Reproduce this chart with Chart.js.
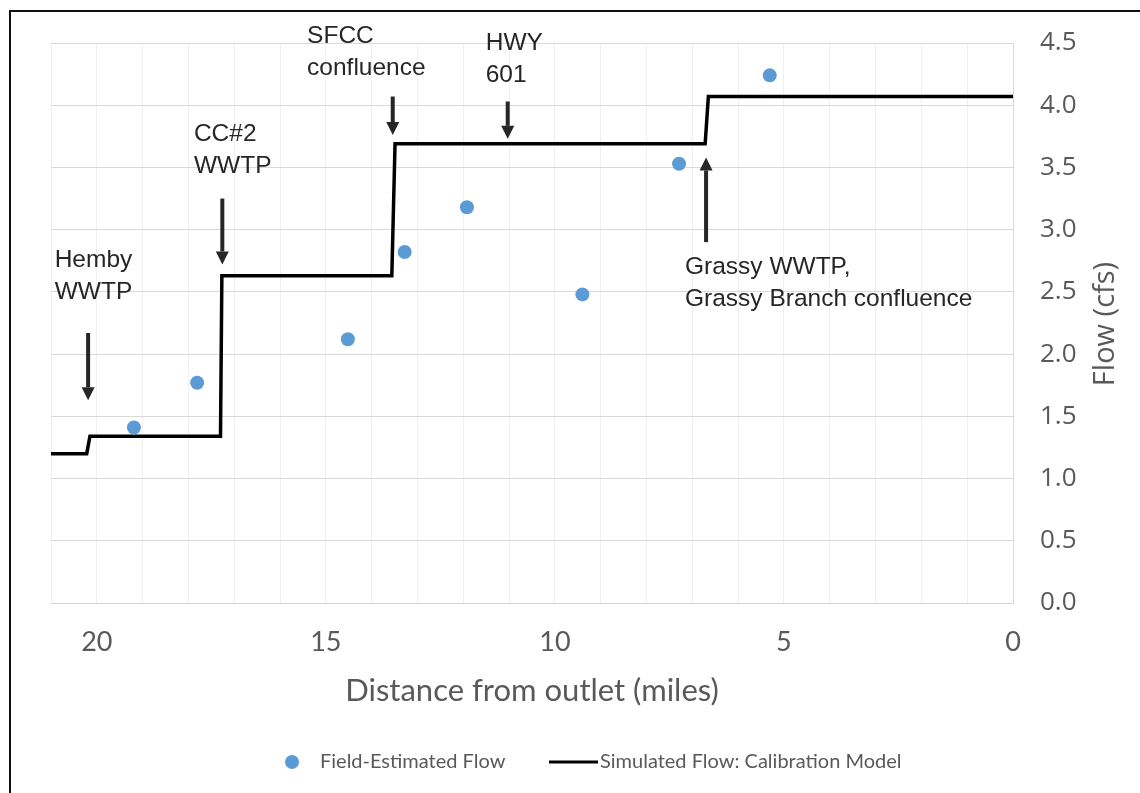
<!DOCTYPE html>
<html>
<head>
<meta charset="utf-8">
<script src="https://cdn.jsdelivr.net/npm/chart.js@4.4.1/dist/chart.umd.min.js"></script>
<style>
  html, body { margin: 0; padding: 0; background: #fff; }
</style>
</head>
<body>
<canvas id="flowChart" width="1140" height="793"></canvas>
<script>
  // Field-estimated flow (blue dots)
  const fieldMiles = [19.19, 17.81, 14.52, 13.28, 11.92, 9.40, 7.29, 5.31];
  const fieldFlow = [1.41, 1.77, 2.12, 2.82, 3.18, 2.48, 3.53, 4.24];

  // Simulated flow: calibration model (step line)
  const simMiles = [21, 20.22, 20.15, 17.30, 17.27, 13.56, 13.49, 6.72, 6.65, 0];
  const simFlow = [1.20, 1.20, 1.34, 1.34, 2.63, 2.63, 3.69, 3.69, 4.07, 4.07];

  // Tick labels
  const xTickLabels = [20, 15, 10, 5, 0];
  const yTickValues = [0, 0.5, 1, 1.5, 2, 2.5, 3, 3.5, 4, 4.5];

  // Point-source call-outs (arrow position in miles, arrow tail/tip in cfs)
  const noteNames = [['Hemby', 'WWTP'], ['CC#2', 'WWTP'], ['SFCC', 'confluence'], ['HWY', '601'], ['Grassy WWTP,', 'Grassy Branch confluence']];
  const noteMiles = [20.19, 17.26, 13.54, 11.03, 6.70];
  const noteArrowFrom = [2.17, 3.25, 4.07, 4.03, 2.90];
  const noteArrowTo = [1.63, 2.72, 3.76, 3.73, 3.58];

  // where the call-out text sits (miles, cfs of first baseline)
  const noteTextMiles = [20.92, 17.88, 15.41, 11.51, 7.16];
  const noteTextFlow = [2.70, 3.71, 4.50, 4.44, 2.64];

  const grey = '#595959';

  function drawArrow(ctx, x, yTail, yTip) {
    const dir = yTip > yTail ? 1 : -1;
    const head = 13;
    ctx.strokeStyle = '#262626';
    ctx.fillStyle = '#262626';
    ctx.lineWidth = 4;
    ctx.beginPath();
    ctx.moveTo(x, yTail);
    ctx.lineTo(x, yTip - dir * head);
    ctx.stroke();
    ctx.beginPath();
    ctx.moveTo(x, yTip);
    ctx.lineTo(x - 6.5, yTip - dir * head);
    ctx.lineTo(x + 6.5, yTip - dir * head);
    ctx.closePath();
    ctx.fill();
  }

  const notesPlugin = {
    id: 'notes',
    afterDatasetsDraw(chart) {
      const { ctx, scales: { x, y } } = chart;
      ctx.save();
      noteNames.forEach((lines, i) => {
        const px = x.getPixelForValue(noteMiles[i]);
        drawArrow(ctx, px, y.getPixelForValue(noteArrowFrom[i]), y.getPixelForValue(noteArrowTo[i]));
        ctx.font = '24.5px "Liberation Sans", Arial, sans-serif';
        ctx.fillStyle = '#262626';
        ctx.textAlign = 'left';
        ctx.textBaseline = 'alphabetic';
        const tx = x.getPixelForValue(noteTextMiles[i]);
        const ty = y.getPixelForValue(noteTextFlow[i]);
        lines.forEach((line, j) => ctx.fillText(line, tx, ty + j * 32));
      });
      ctx.restore();
    },
    afterDraw(chart) {
      const { ctx } = chart;
      ctx.save();

      // y title, reads bottom to top
      ctx.translate(1106, 324);
      ctx.rotate(-Math.PI / 2);
      ctx.font = '29px "Open Sans", sans-serif';
      ctx.fillStyle = grey;
      ctx.textAlign = 'center';
      ctx.textBaseline = 'middle';
      ctx.fillText('Flow (cfs)', 0, 0);
      ctx.setTransform(1, 0, 0, 1, 0, 0);

      // legend
      const ds = chart.data.datasets;
      const ly = 762;
      ctx.font = '20px Lato, sans-serif';
      ctx.textBaseline = 'middle';
      ctx.textAlign = 'left';
      ctx.fillStyle = ds[0].backgroundColor;
      ctx.beginPath();
      ctx.arc(292, ly, 7, 0, Math.PI * 2);
      ctx.fill();
      ctx.fillStyle = grey;
      ctx.fillText(ds[0].label, 320, ly);
      ctx.strokeStyle = ds[1].borderColor;
      ctx.lineWidth = 3;
      ctx.beginPath();
      ctx.moveTo(549, ly);
      ctx.lineTo(598, ly);
      ctx.stroke();
      ctx.fillText(ds[1].label, 600, ly);

      // frame
      ctx.strokeStyle = '#111';
      ctx.lineWidth = 2;
      ctx.beginPath();
      ctx.moveTo(10, 793);
      ctx.lineTo(10, 11);
      ctx.lineTo(1140, 11);
      ctx.stroke();
      ctx.restore();
    }
  };

  const ctx = document.getElementById('flowChart').getContext('2d');
  const flowChart = new Chart(ctx, {
    type: 'scatter',
    data: {
      datasets: [{
        label: 'Field-Estimated Flow',
        data: fieldMiles.map((m, i) => ({ x: m, y: fieldFlow[i] })),
        backgroundColor: '#5b9bd5',
        borderColor: '#5b9bd5',
        pointRadius: 7,
        pointBorderWidth: 0
      }, {
        label: 'Simulated Flow: Calibration Model',
        data: simMiles.map((m, i) => ({ x: m, y: simFlow[i] })),
        showLine: true,
        borderColor: '#000000',
        borderWidth: 3.5,
        borderJoinStyle: 'miter',
        pointRadius: 0
      }]
    },
    options: {
      responsive: false,
      animation: false,
      layout: { padding: { left: 51, top: 43, right: 0, bottom: 80 } },
      plugins: {
        legend: { display: false },
        tooltip: { enabled: false }
      },
      scales: {
        x: {
          type: 'linear',
          reverse: true,
          min: 0,
          max: 21,
          afterFit: (scale) => { scale.height = 110; },
          ticks: {
            stepSize: 1,
            autoSkip: false,
            maxRotation: 0,
            padding: 23,
            color: grey,
            font: { family: 'Lato', size: 27 },
            callback: (v) => xTickLabels.includes(v) ? String(v) : ''
          },
          grid: { color: '#efefef', drawTicks: false },
          border: { color: '#d4d4d4' },
          title: {
            display: true,
            text: 'Distance from outlet (miles)',
            color: grey,
            font: { family: 'Lato', size: 31 },
            padding: { top: 0, bottom: 3 }
          }
        },
        y: {
          position: 'right',
          min: 0,
          max: 4.5,
          afterFit: (scale) => { scale.width = 127; },
          afterBuildTicks: (scale) => { scale.ticks = yTickValues.map(v => ({ value: v })); },
          ticks: {
            padding: 27,
            color: grey,
            font: { family: 'Open Sans', size: 26 },
            callback: (v) => v.toFixed(1)
          },
          grid: { color: '#d9d9d9', drawTicks: false },
          border: { color: '#d9d9d9' }
        }
      }
    },
    plugins: [notesPlugin]
  });
</script>
</body>
</html>
